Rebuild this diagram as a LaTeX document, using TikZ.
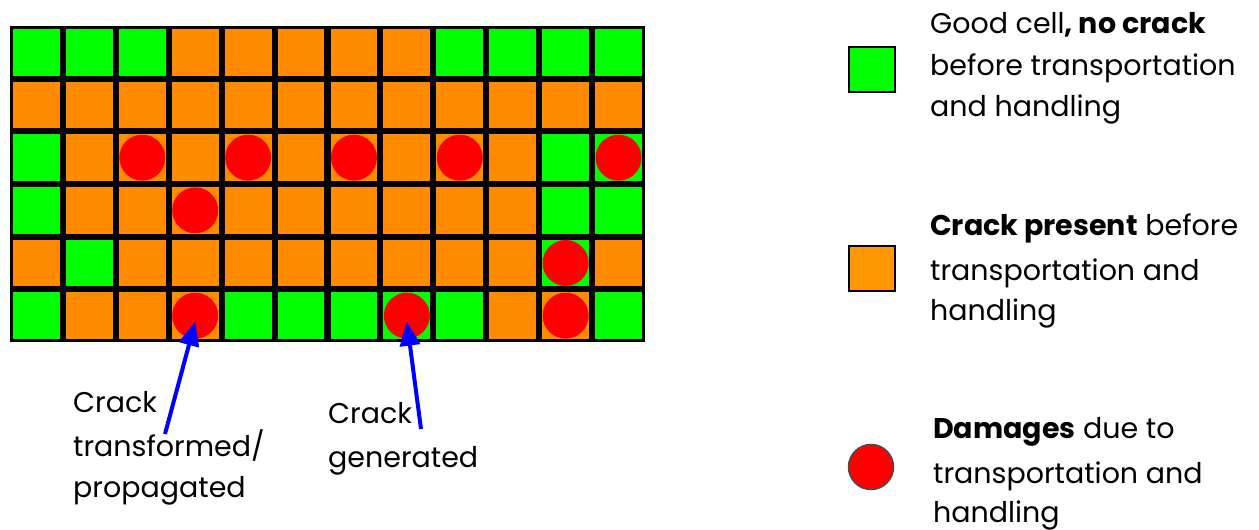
\documentclass[tikz,border=0pt]{standalone}
\usepackage{fontspec}
\setmainfont{Poppins}
\usetikzlibrary{arrows.meta}
\definecolor{cellG}{HTML}{00FF00}
\definecolor{cellO}{HTML}{FF8C00}
\definecolor{legO}{HTML}{FF9900}
\definecolor{dmg}{HTML}{FF0000}
\definecolor{arrblue}{HTML}{0000FF}
\begin{document}
\begin{tikzpicture}[x=1pt,y=-1pt,
  cellbox/.style={inner sep=0pt, minimum width=46.8pt, minimum height=46.5pt, draw=none},
  dmgdot/.style={circle, fill=dmg, inner sep=0pt, minimum size=46pt, draw=none},
  txt/.style={font=\fontsize{28.5}{32}\selectfont, anchor=base west, inner sep=0pt},
  arr/.style={draw=arrblue, line width=4pt, -{Triangle[length=24pt,width=20pt]}},
  legbox/.style={inner sep=0pt, minimum width=46pt, minimum height=45pt, draw=black, line width=2pt}
]
\useasboundingbox (0,0) rectangle (1259,530);
\node[fill=black, inner sep=0pt, minimum width=635pt, minimum height=316pt, anchor=north west] (frame) at (10,26) {};
\foreach \row [count=\r] in {
  {G,G,G,O,O,O,O,O,G,G,G,G},
  {O,O,O,O,O,O,O,O,O,O,O,O},
  {G,O,O,O,O,O,O,O,O,O,G,G},
  {G,O,O,O,O,O,O,O,O,O,G,G},
  {O,G,O,O,O,O,O,O,O,O,G,O},
  {G,O,O,O,G,G,G,G,G,O,O,G}} {
  \foreach \c [count=\k] in \row {
    \node[cellbox, fill=cell\c] (c-\r-\k) at ({10+(\k-0.5)*52.917},{26+(\r-0.5)*52.667}) {};
  }
}
\foreach \r/\k in {3/3,3/5,3/7,3/9,3/12,4/4,5/11,6/4,6/8,6/11} {
  \node[dmgdot] (d-\r-\k) at (c-\r-\k) {};
}
% arrows
\coordinate (t1) at (165,434);
\coordinate (t2) at (421,429);
\draw[arr] (t1) -- ([yshift=-6pt]d-6-4.center);
\draw[arr] (t2) -- ([yshift=-6pt]d-6-8.center);
% labels
\node[txt] (l1a) at (73,412) {Crack};
\node[txt] (l1b) at (73,456) {transformed/};
\node[txt] (l1c) at (73,497) {propagated};
\node[txt] (l2a) at (328,423) {Crack};
\node[txt] (l2b) at (328,467) {generated};
% legend
\node[legbox, fill=cellG] (kg) at (871.5,69.5) {};
\node[legbox, fill=legO] (ko) at (871.5,268.5) {};
\node[circle, fill=dmg, draw=black!70, line width=1.5pt, inner sep=0pt, minimum size=45pt] (kr) at (871,467) {};
\node[txt] (g1) at (930,33) {Good cell\textbf{, no crack}};
\node[txt] (g2) at (930,75) {before transportation};
\node[txt] (g3) at (930,116) {and handling};
\node[txt] (o1) at (930,235) {\textbf{Crack present} before};
\node[txt] (o2) at (930,280) {transportation and};
\node[txt] (o3) at (930,320) {handling};
\node[txt] (r1) at (933,438) {\textbf{Damages} due to};
\node[txt] (r2) at (933,483) {transportation and};
\node[txt] (r3) at (933,522) {handling};
\end{tikzpicture}
\end{document}
